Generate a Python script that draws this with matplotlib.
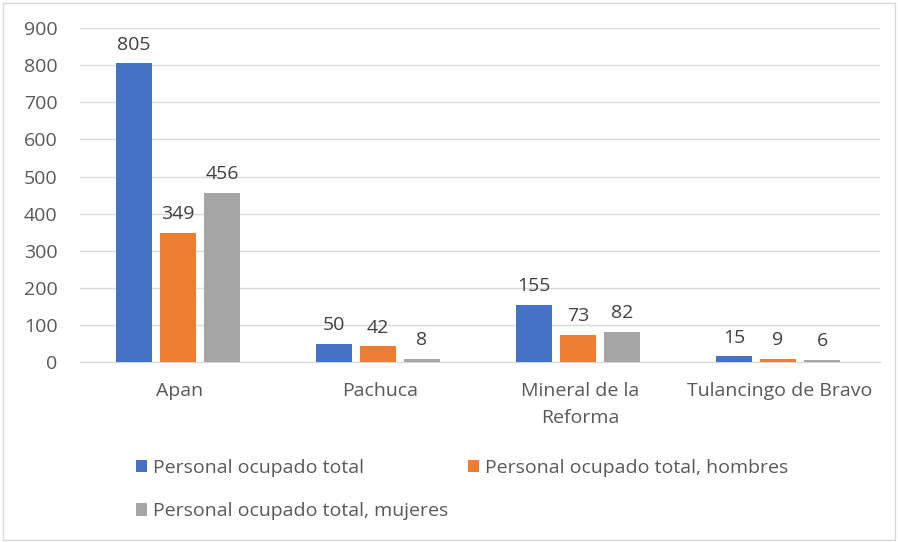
import numpy as np
import matplotlib.pyplot as plt
from matplotlib.patches import Rectangle

categories = ["Apan", "Pachuca", "Mineral de la\nReforma", "Tulancingo de Bravo"]
total = [805, 50, 155, 15]
hombres = [349, 42, 73, 9]
mujeres = [456, 8, 82, 6]
series_names = ["Personal ocupado total",
                "Personal ocupado total, hombres",
                "Personal ocupado total, mujeres"]
colors = ["#4472C4", "#ED7D31", "#A5A5A5"]
yticks = [0, 100, 200, 300, 400, 500, 600, 700, 800, 900]

textcolor = "#595959"
fs = 14
plt.rcParams['font.family'] = ['Open Sans', 'DejaVu Sans']

fig = plt.figure(figsize=(8.98, 5.42), dpi=100)
fig.patches.append(Rectangle((0.003, 0.003), 0.994, 0.992, transform=fig.transFigure,
                             fill=False, edgecolor="#D9D9D9", linewidth=1))
ax = fig.add_axes([0.089, 0.332, 0.891, 0.616])

x = np.arange(len(categories))
width = 0.18
step = 0.22
bars = []
for i, (vals, name, c) in enumerate(zip([total, hombres, mujeres], series_names, colors)):
    b = ax.bar(x + (i - 1) * step - 0.01, vals, width, color=c, label=name, zorder=3)
    bars.append(b)
    for xi, v in zip(x + (i - 1) * step - 0.01, vals):
        ax.annotate(str(v), (xi, v), xytext=(0, 7), textcoords="offset points",
                    ha="center", va="bottom", fontsize=fs, color="#404040")

ax.set_xlim(-0.5, len(categories) - 0.5)
ax.set_ylim(0, 900)
ax.set_yticks(yticks)
ax.yaxis.grid(True, color="#D9D9D9", linewidth=1, zorder=0)
ax.set_xticks(x)
ax.set_xticklabels(categories, fontsize=fs, color=textcolor, linespacing=1.65, va="top")
ax.tick_params(axis='y', length=0, labelsize=fs, labelcolor=textcolor, pad=16)
ax.tick_params(axis='x', length=0, pad=14)
for s in ['top', 'right', 'left']:
    ax.spines[s].set_visible(False)
ax.spines['bottom'].set_color("#D9D9D9")

handles = [bars[0], bars[2], bars[1]]
labels = [series_names[0], series_names[2], series_names[1]]
fig.legend(handles, labels, ncol=2, loc="upper left", bbox_to_anchor=(0.151, 0.153),
           frameon=False, fontsize=fs, labelcolor=textcolor, handlelength=0.6,
           handleheight=0.6, handletextpad=0.3, columnspacing=1.0, labelspacing=1.3,
           borderaxespad=0, borderpad=0)

plt.savefig("out.png", dpi=100)
